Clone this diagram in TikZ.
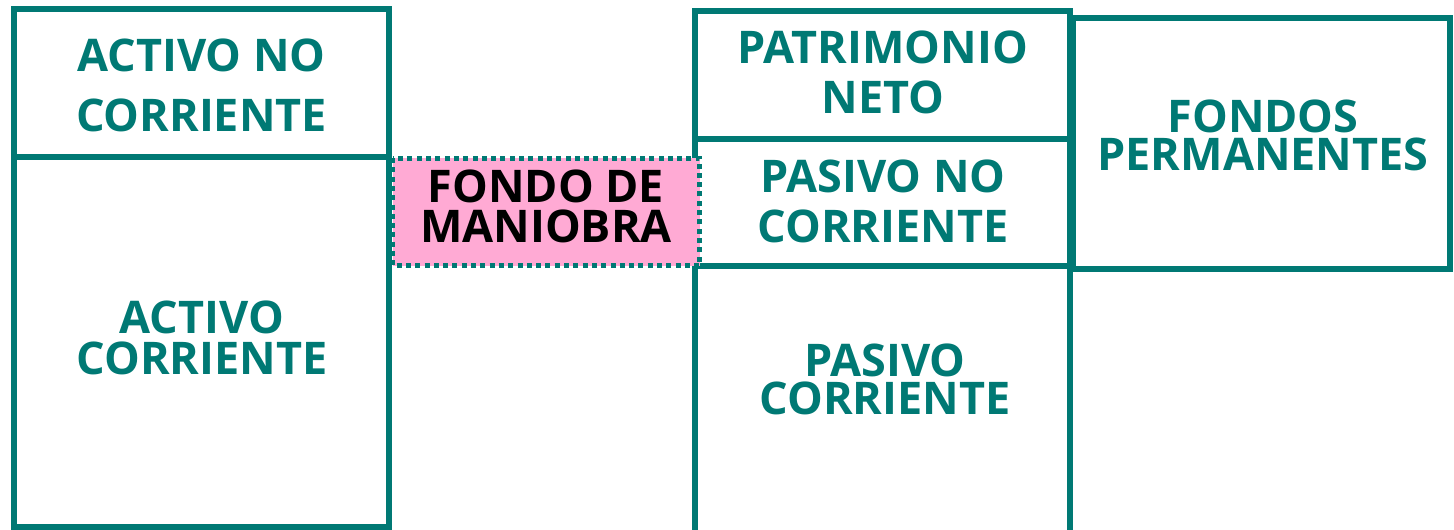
\documentclass[tikz,border=0pt]{standalone}
\usepackage{fontspec}
\setmainfont{Open Sans}
\definecolor{teal1}{RGB}{0,121,116}
\definecolor{pink1}{RGB}{255,170,212}
\begin{document}
\begin{tikzpicture}[x=1pt,y=-1pt,
  boxline/.style={draw=teal1,line width=5.5pt},
  fmbox/.style={draw=teal1,fill=pink1,line width=5pt,dash pattern=on 5pt off 4.3pt},
  lbl/.style={inner sep=0pt,anchor=base,text=teal1,text height=32pt,text depth=0pt,font=\fontsize{45}{50}\selectfont\bfseries},
  lblk/.style={lbl,text=black}]
\useasboundingbox (0,0) rectangle (1454,530);
% boxes
\draw[boxline] (14,9) rectangle (389,157);
\draw[boxline] (14,157) rectangle (389,527);
\draw[boxline] (695,11) rectangle (1070,139);
\draw[boxline] (695,139) rectangle (1070,266);
\draw[boxline] (695,266) rectangle (1070,560);
\draw[boxline] (1073,18) rectangle (1450,269);
\draw[fmbox] (392.5,158) rectangle (699.5,265.5);
% texts
\node[lbl] (anc1) at (201.5,71) {ACTIVO NO};
\node[lbl] (anc2) at (201.5,131) {CORRIENTE};
\node[lbl] (ac1) at (202,333) {ACTIVO};
\node[lbl] (ac2) at (202,374) {CORRIENTE};
\node[lblk] (fm1) at (546,202) {FONDO DE};
\node[lblk] (fm2) at (546,242) {MANIOBRA};
\node[lbl] (pn1) at (883,63) {PATRIMONIO};
\node[lbl] (pn2) at (883,113) {NETO};
\node[lbl] (pnc1) at (883,192) {PASIVO NO};
\node[lbl] (pnc2) at (883,242) {CORRIENTE};
\node[lbl] (pc1) at (885,376) {PASIVO};
\node[lbl] (pc2) at (885,414) {CORRIENTE};
\node[lbl] (fp1) at (1263,132) {FONDOS};
\node[lbl] (fp2) at (1263,170) {PERMANENTES};
\end{tikzpicture}
\end{document}
